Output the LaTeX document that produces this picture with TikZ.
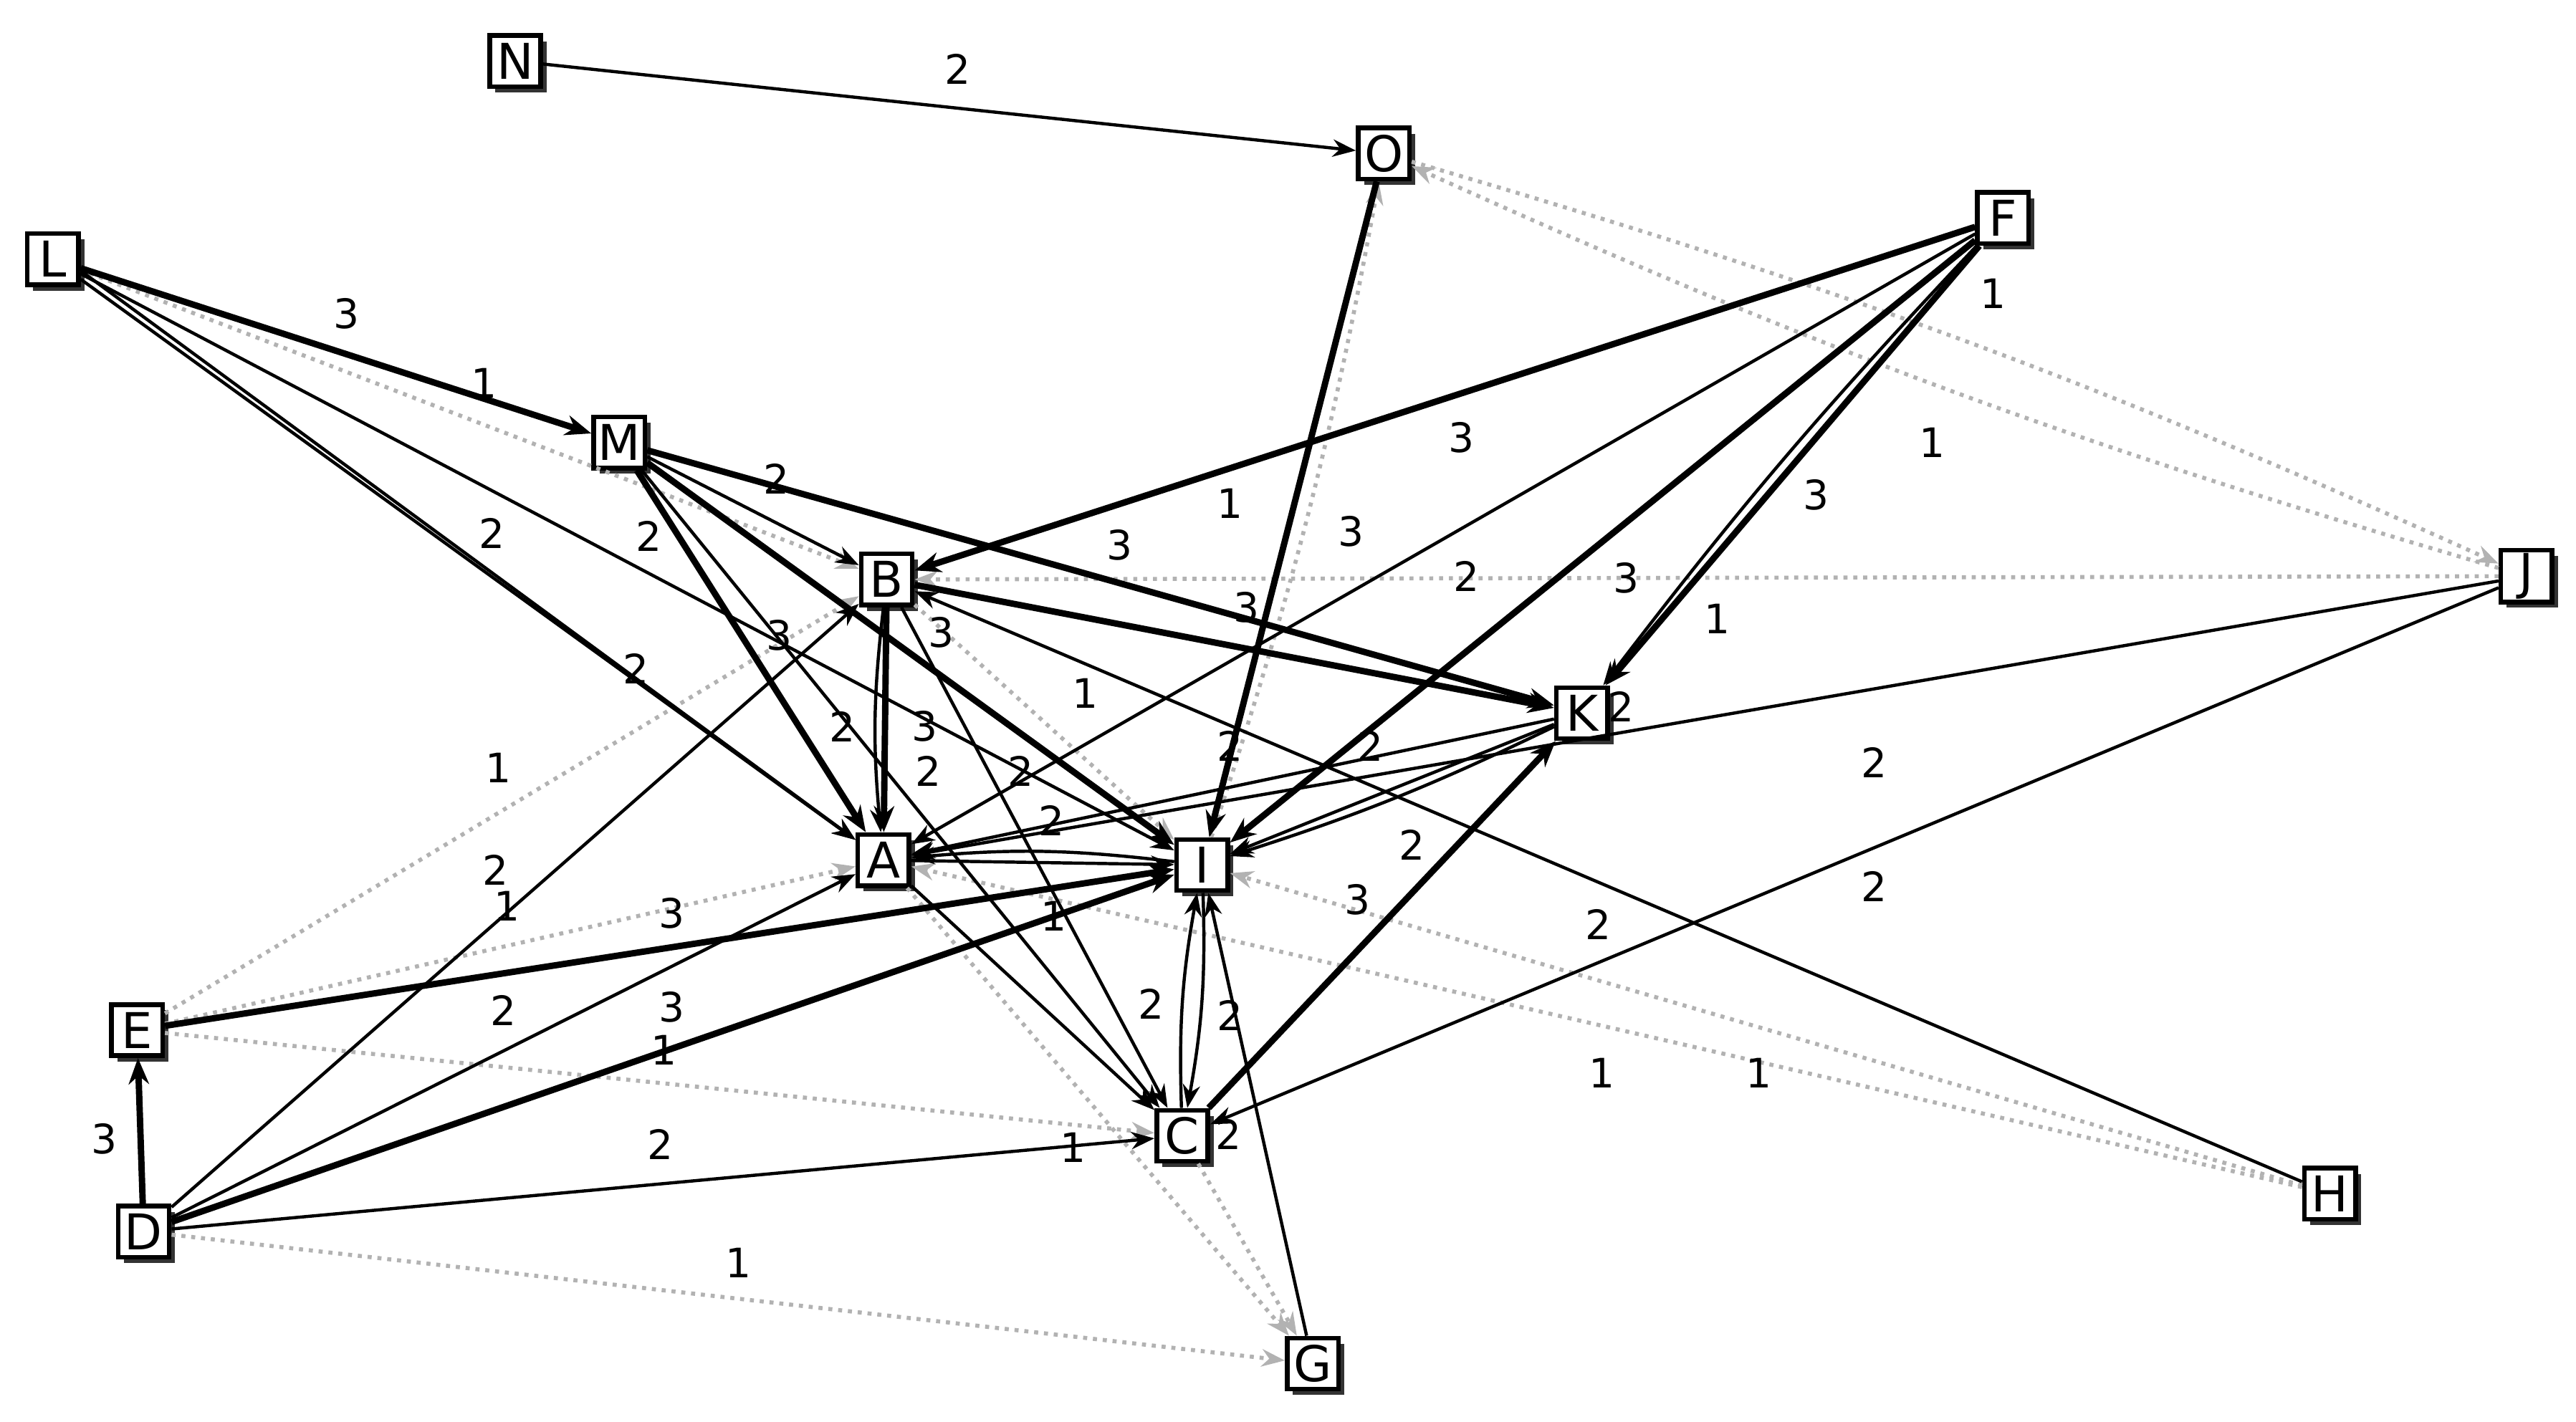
\documentclass[tikz,border=0pt]{standalone}
\usepackage{fontspec}
\setmainfont{DejaVu Sans}
\usetikzlibrary{arrows.meta,shadows}
\begin{document}
\begin{tikzpicture}[x=0.02cm,y=-0.02cm,
 nd/.style={draw,line width=1.6pt,fill=white,minimum width=0.62cm,minimum height=0.62cm,inner sep=1pt,
   font=\fontsize{17}{19}\selectfont,drop shadow={shadow xshift=2pt,shadow yshift=-2pt,fill=black,opacity=0.8}},
 w3/.style={line width=2.2pt,-{Stealth[length=9pt,width=7pt]}},
 w2/.style={line width=1.1pt,-{Stealth[length=8pt,width=6pt]}},
 w1/.style={line width=1.4pt,dotted,gray!60,-{Stealth[length=8pt,width=6pt]}},
 lb/.style={font=\fontsize{14}{16}\selectfont,inner sep=0pt}]
\useasboundingbox (0,0) rectangle (1560,861);
\node[nd] (N) at (312,37) {N};
\node[nd] (O) at (838,93) {O};
\node[nd] (L) at (32,157) {L};
\node[nd] (F) at (1213,132) {F};
\node[nd] (M) at (375,268) {M};
\node[nd] (B) at (537,351) {B};
\node[nd] (J) at (1530,349) {J};
\node[nd] (K) at (958,432) {K};
\node[nd] (A) at (535,521) {A};
\node[nd] (I) at (728,524) {I};
\node[nd] (E) at (83,624) {E};
\node[nd] (C) at (716,688) {C};
\node[nd] (D) at (87,746) {D};
\node[nd] (H) at (1411,723) {H};
\node[nd] (G) at (795,826) {G};
% dotted
\draw[w1] (L) -- (B);
\draw[w1] (E) -- (B);
\draw[w1] (E) -- (A);
\draw[w1] (E) -- (C);
\draw[w1] (D) -- (G);
\draw[w1] (A) -- (G);
\draw[w1] (C) -- (G);
\draw[w1] (J) -- (B);
\draw[w1] (J) to[bend left=4] (O);
\draw[w1] (O) to[bend left=4] (J);
\draw[w1] (H) -- (I);
\draw[w1] (H) -- (A);
\draw[w1] (B) -- (I);
\draw[w1] (I) to[bend right=4] (O);
% thin
\draw[w2] (N) -- (O);
\draw[w2] (L) -- (I);
\draw[w2] (L) -- (A);
\draw[w2] ([yshift=-4pt]L.east) -- (A);
\draw[w2] (M) -- (B);
\draw[w2] (M) -- (C);
\draw[w2] (H) -- (B);
\draw[w2] (B) -- (C);
\draw[w2] (J) -- (A);
\draw[w2] (J) -- (C);
\draw[w2] (F) -- (A);
\draw[w2] (F) to[bend right=3] (K);
\draw[w2] (K) -- (I);
\draw[w2] (K) to[bend left=4] (I);
\draw[w2] (K) -- (A);
\draw[w2] (D) -- (B);
\draw[w2] (D) -- (A);
\draw[w2] (D) -- (C);
\draw[w2] (A) -- (C);
\draw[w2] (I) to[bend left=6] (C);
\draw[w2] (C) to[bend left=6] (I);
\draw[w2] (G) -- (I);
\draw[w2] (I) to[bend right=6] (A);
\draw[w2] (A) -- (I);
\draw[w2] (B) to[bend right=6] (A);
% thick
\draw[w3] (L) -- (M);
\draw[w3] (M) -- (A);
\draw[w3] (M) -- (I);
\draw[w3] (M) -- (K);
\draw[w3] (F) -- (B);
\draw[w3] (F) -- (I);
\draw[w3] (F) -- (K);
\draw[w3] (O) -- (I);
\draw[w3] (B) -- (A);
\draw[w3] (B) -- (K);
\draw[w3] (E) -- (I);
\draw[w3] (D) -- (I);
\draw[w3] (D) -- (E);
\draw[w3] (C) -- (K);
\foreach \x/\y/\t in {580/42/2,210/190/3,293/232/1,470/290/2,298/323/2,393/325/2,678/330/3,745/305/1,818/322/3,885/265/3,1207/178/1,1170/268/1,1100/300/3,888/349/2,985/350/3,755/368/3,1040/375/1,570/383/3,472/385/3,385/405/2,657/420/1,560/440/3,510/440/2,562/467/2,745/452/2,830/452/2,618/467/2,982/428/2,302/465/1,1135/462/2,637/497/2,855/512/2,300/527/2,307/549/1,407/553/3,638/555/1,822/545/3,305/612/2,407/610/3,402/636/1,968/560/2,1135/537/2,697/608/2,745/615/2,63/690/3,400/693/2,650/695/1,744/687/2,970/650/1,1065/650/1,447/765/1}
  \node[lb] at (\x,\y) {\t};
\end{tikzpicture}
\end{document}
